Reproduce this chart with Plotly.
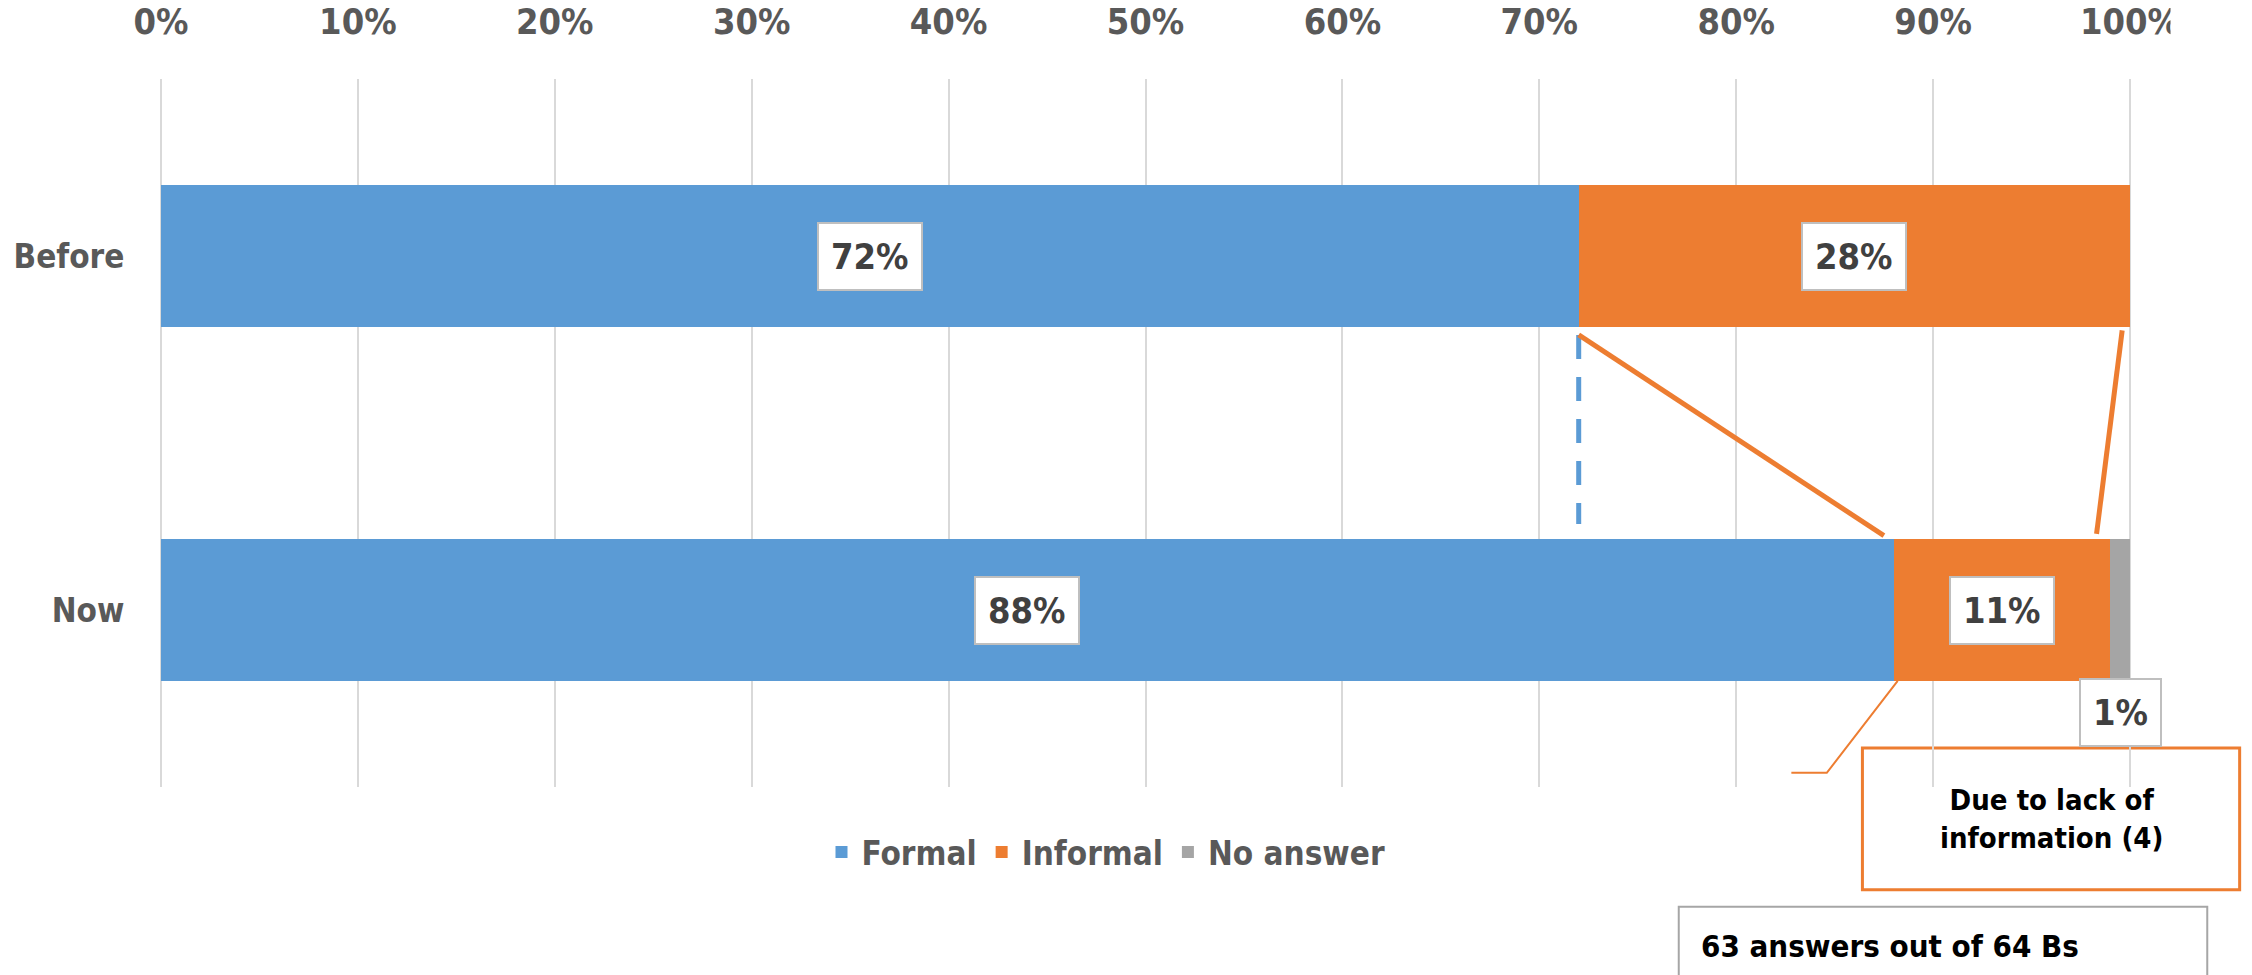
import plotly.graph_objects as go

# Survey data: share of Bs by type of arrangement
periods = ["Before", "Now"]
formal = [72, 88]
informal = [28, 11]
no_answer = [0, 1]
tick_vals = [0, 10, 20, 30, 40, 50, 60, 70, 80, 90, 100]
tick_text = ["0%", "10%", "20%", "30%", "40%", "50%", "60%", "70%", "80%", "90%", "100%"]
note_reason = "Due to lack of<br>information (4)"
note_sample = "63 answers out of 64 Bs"

FONT = "DejaVu Sans Condensed, Liberation Sans Narrow, sans-serif"
BLUE, ORANGE, GREY = "#5B9BD5", "#ED7D31", "#A5A5A5"
TXT = "#595959"

ypos = {"Before": 1, "Now": 0}
yvals = [ypos[p] for p in periods]
BAR_W = 0.4

fig = go.Figure()
for name, vals, col in [("Formal", formal, BLUE), ("Informal", informal, ORANGE),
                        ("No answer", no_answer, GREY)]:
    fig.add_trace(go.Bar(name=name, y=yvals, x=vals, orientation="h",
                         marker=dict(color=col, line=dict(width=0)), width=BAR_W))

# value labels in white boxes
ann = []
def label(x, y, txt):
    ann.append(dict(x=x, y=y, xref="x", yref="y", text=txt, showarrow=False,
                    xanchor="center", yanchor="middle",
                    font=dict(family=FONT, size=36, color="#404040", weight="bold"),
                    bgcolor="white", bordercolor="#BFBFBF", borderwidth=2, borderpad=12))

for i, p in enumerate(periods):
    y = ypos[p]
    label(formal[i] / 2, y, f"{formal[i]}%")
    label(formal[i] + informal[i] / 2, y, f"{informal[i]}%")
    if no_answer[i]:
        label(formal[i] + informal[i] + no_answer[i] / 2, y - 0.29, f"{no_answer[i]}%")

# note boxes
ann.append(dict(x=0.9585, y=-0.045, xref="paper", yref="paper", text=note_reason,
                showarrow=False, align="center", xanchor="center", yanchor="middle",
                font=dict(family=FONT, size=29, color="black", weight="bold")))
ann.append(dict(x=0.780, y=-0.2246, xref="paper", yref="paper", text=note_sample,
                showarrow=False, xanchor="left", yanchor="middle",
                font=dict(family=FONT, size=31, color="black", weight="bold")))

b0, n0 = ypos["Before"], ypos["Now"]
shapes = [
    # dashed marker at the previous formal share
    dict(type="line", xref="x", yref="y", x0=formal[0], x1=formal[0],
         y0=b0 - 0.223, y1=n0 + 0.243, line=dict(color=BLUE, width=5, dash="24px,18px")),
    # connectors between the informal segments
    dict(type="line", xref="x", yref="y", x0=formal[0], x1=formal[1] - 0.5,
         y0=b0 - 0.223, y1=n0 + 0.21, line=dict(color=ORANGE, width=5)),
    dict(type="line", xref="x", yref="y", x0=formal[0] + informal[0] - 0.4,
         x1=formal[1] + informal[1] - 0.7, y0=b0 - 0.21, y1=n0 + 0.215,
         line=dict(color=ORANGE, width=5)),
    # callout leader
    dict(type="path", xref="x", yref="y",
         path=f"M {formal[1] + 0.2},{n0 - 0.2} L 84.6,{n0 - 0.46} L 82.8,{n0 - 0.46}",
         line=dict(color=ORANGE, width=2)),
    # callout box
    dict(type="rect", xref="paper", yref="paper", x0=0.863, x1=1.054, y0=-0.145, y1=0.055,
         line=dict(color=ORANGE, width=3), fillcolor="white", layer="below"),
    # sample note box
    dict(type="rect", xref="paper", yref="paper", x0=0.770, x1=1.0376, y0=-0.30, y1=-0.169,
         line=dict(color="#A6A6A6", width=2), fillcolor="white", layer="below"),
    # chart area edge on the right
    dict(type="rect", xref="paper", yref="paper", x0=1.019, x1=1.07, y0=1.0, y1=1.15,
         line=dict(width=0), fillcolor="white", layer="above"),
]

fig.update_layout(
    barmode="stack",
    width=2252, height=975,
    margin=dict(l=158, r=119, t=79, b=188),
    paper_bgcolor="white", plot_bgcolor="white",
    showlegend=True,
    legend=dict(orientation="h", x=0.48, xanchor="center", y=-0.092, yanchor="middle",
                font=dict(family=FONT, size=33, color=TXT, weight="bold"),
                traceorder="normal", itemwidth=30),
    annotations=ann,
    shapes=shapes,
    xaxis=dict(range=[-0.15, 100.15], side="top", tickvals=tick_vals, ticktext=tick_text,
               showgrid=True, gridcolor="#D9D9D9", gridwidth=2,
               zeroline=True, zerolinecolor="#D9D9D9", zerolinewidth=2,
               showline=False, ticks="outside", ticklen=30, tickcolor="rgba(0,0,0,0)",
               tickfont=dict(family=FONT, size=36, color=TXT, weight="bold"),
               automargin=False, fixedrange=True),
    yaxis=dict(range=[-0.5, 1.5], tickvals=yvals, ticktext=periods,
               showgrid=False, zeroline=False, showline=False,
               ticks="outside", ticklen=26, tickcolor="rgba(0,0,0,0)",
               tickfont=dict(family=FONT, size=33, color=TXT, weight="bold"),
               automargin=False),
    font=dict(family=FONT),
)
fig.write_html("out.html")
